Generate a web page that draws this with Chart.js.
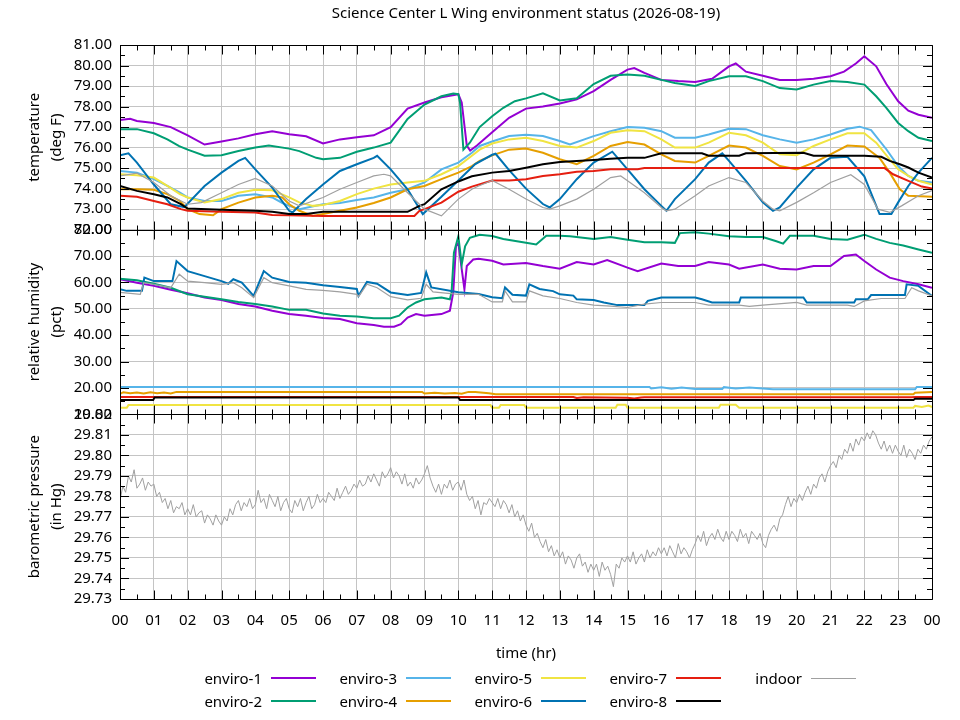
<!DOCTYPE html>
<html><head><meta charset="utf-8">
<script src="https://cdn.jsdelivr.net/npm/chart.js@4/dist/chart.umd.min.js"></script>
<style>
html,body{margin:0;padding:0;background:#fff;}
#wrap{position:relative;width:960px;height:720px;overflow:hidden;}
#c{position:absolute;left:0;top:0;}
.lgt{position:absolute;font:15px "Noto Sans";color:#000;white-space:nowrap;line-height:20px;height:20px;text-align:right;}
.lgl{position:absolute;width:45px;}
</style></head>
<body><div id="wrap"><canvas id="c" width="960" height="720"></canvas></div>
<script>
// ---------------- DATA ----------------
const chartTitle = 'Science Center L Wing environment status (2026-08-19)';
const seriesNames = ['enviro-1','enviro-2','enviro-3','enviro-4','enviro-5','enviro-6','enviro-7','enviro-8','indoor'];
const seriesColors = ['#9400d3','#009e73','#56b4e9','#e69f00','#f0e442','#0072b2','#e51e10','#000000','#a0a0a0'];

// temperature (deg F), [hour, value]
const tempE1 = [[0,77.35],[0.3,77.4],[0.5,77.3],[1,77.2],[1.5,77.0],[2,76.6],[2.5,76.15],[3,76.3],[3.5,76.45],[4,76.65],[4.5,76.8],[5,76.65],[5.5,76.55],[6,76.2],[6.5,76.4],[7,76.5],[7.5,76.6],[8,77.0],[8.5,77.9],[9,78.2],[9.5,78.45],[10,78.6],[10.1,78.2],[10.25,76.1],[10.35,75.85],[10.55,76.1],[11,76.75],[11.5,77.45],[12,77.9],[12.5,78.0],[13,78.15],[13.5,78.35],[14,78.75],[14.5,79.3],[15,79.8],[15.2,79.88],[15.5,79.64],[16,79.3],[16.5,79.24],[17,79.2],[17.5,79.35],[18,79.96],[18.2,80.1],[18.5,79.7],[19,79.5],[19.5,79.3],[20,79.3],[20.5,79.35],[21,79.48],[21.4,79.7],[21.75,80.1],[22,80.45],[22.35,79.96],[22.65,79.1],[23,78.26],[23.3,77.8],[23.6,77.6],[24,77.45]];
const tempE2 = [[0,76.9],[0.5,76.9],[1,76.7],[1.4,76.4],[1.75,76.07],[2,75.9],[2.5,75.6],[3,75.63],[3.5,75.83],[4,76.0],[4.4,76.1],[5,75.95],[5.3,75.83],[5.8,75.5],[6,75.43],[6.5,75.5],[7,75.8],[7.5,76.0],[8,76.24],[8.5,77.4],[9,78.1],[9.5,78.5],[9.85,78.63],[10,78.6],[10.05,78.2],[10.15,75.9],[10.34,76.24],[10.63,77.0],[11,77.53],[11.33,77.94],[11.67,78.26],[12,78.4],[12.5,78.65],[13,78.3],[13.5,78.4],[14,79.1],[14.5,79.5],[15,79.56],[15.5,79.5],[16,79.3],[16.4,79.15],[17,79.0],[17.4,79.24],[18,79.48],[18.5,79.48],[19,79.24],[19.5,78.9],[20,78.83],[20.5,79.07],[21,79.24],[21.5,79.2],[22,79.07],[22.35,78.5],[22.65,77.94],[23,77.2],[23.3,76.8],[23.6,76.48],[24,76.32]];
const tempE3 = [[0,74.86],[0.5,74.78],[1,74.46],[1.4,74.13],[1.77,73.8],[2,73.57],[2.5,73.4],[3,73.4],[3.5,73.65],[4,73.73],[4.5,73.57],[4.8,73.3],[5,73.16],[5.3,73.0],[6,73.24],[6.5,73.3],[7,73.45],[7.5,73.57],[8,73.8],[8.5,73.97],[9,74.3],[9.5,74.94],[10,75.27],[10.4,75.75],[10.63,76.08],[11,76.3],[11.5,76.56],[12,76.62],[12.5,76.56],[13,76.32],[13.3,76.15],[14,76.56],[14.5,76.8],[15,77.0],[15.5,76.97],[16,76.8],[16.4,76.48],[17,76.48],[17.4,76.64],[18,76.92],[18.5,76.9],[19,76.6],[19.5,76.4],[20,76.24],[20.5,76.4],[21,76.64],[21.5,76.92],[21.86,77.02],[22.2,76.85],[22.65,75.92],[23,75.1],[23.3,74.62],[23.6,74.38],[24,74.3]];
const tempE4 = [[0,73.97],[0.5,73.97],[1,73.94],[1.4,73.73],[1.77,73.4],[2,73.0],[2.35,72.76],[2.75,72.7],[3,73.0],[3.5,73.32],[4,73.57],[4.5,73.65],[4.8,73.57],[5,73.24],[5.3,72.92],[5.7,72.67],[6,72.76],[6.5,72.92],[7,73.08],[7.5,73.3],[8,73.57],[8.5,73.97],[9,74.13],[9.5,74.46],[10,74.78],[10.4,75.1],[10.63,75.35],[11,75.62],[11.5,75.9],[12,75.95],[12.5,75.75],[13,75.43],[13.5,75.19],[14,75.6],[14.5,76.08],[15,76.27],[15.5,76.15],[16,75.67],[16.4,75.35],[17,75.27],[17.4,75.6],[18,76.1],[18.5,76.0],[19,75.6],[19.5,75.1],[20,74.94],[20.5,75.27],[21,75.67],[21.5,76.1],[22,76.05],[22.45,75.5],[22.75,74.78],[23.05,73.97],[23.3,73.65],[24,73.6]];
const tempE5 = [[0,74.7],[0.5,74.65],[1,74.54],[1.4,74.13],[1.77,73.73],[2,73.57],[2.5,73.33],[3,73.49],[3.5,73.8],[4,73.94],[4.5,73.92],[5,73.57],[5.3,73.33],[5.7,73.16],[6,73.2],[6.5,73.4],[7,73.73],[7.5,74.0],[8,74.2],[8.5,74.3],[9,74.38],[9.5,74.7],[10,75.1],[10.4,75.6],[10.63,75.9],[11,76.2],[11.5,76.4],[12,76.48],[12.5,76.32],[13,76.08],[13.5,76.0],[14,76.32],[14.5,76.72],[15,76.85],[15.5,76.8],[16,76.4],[16.4,76.0],[17,76.0],[17.4,76.24],[18,76.72],[18.5,76.6],[19,76.24],[19.5,75.67],[20,75.63],[20.5,76.08],[21,76.4],[21.5,76.7],[22,76.7],[22.35,76.24],[22.75,75.43],[23,74.94],[23.3,74.62],[23.6,74.38],[24,74.2]];
const tempE6 = [[0,75.62],[0.25,75.72],[0.5,75.27],[1,74.2],[1.5,73.24],[1.9,73.1],[2.5,74.13],[3,74.78],[3.5,75.35],[3.7,75.5],[4,74.94],[4.5,74.05],[5,72.92],[5.1,72.84],[5.5,73.49],[6,74.2],[6.5,74.86],[7,75.19],[7.5,75.5],[7.6,75.6],[8,74.94],[8.5,73.97],[8.95,72.76],[9.5,73.6],[10,74.4],[10.5,75.2],[11,75.65],[11.1,75.7],[11.5,74.9],[12,74.0],[12.5,73.25],[12.7,73.08],[13,73.49],[13.5,74.46],[14,75.27],[14.55,75.8],[15,74.94],[15.5,73.97],[16,73.16],[16.15,72.92],[16.4,73.49],[17,74.46],[17.4,75.27],[17.8,75.72],[18,75.35],[18.5,74.38],[19,73.33],[19.3,72.92],[19.5,73.08],[20,74.05],[20.5,74.94],[21,75.5],[21.5,75.55],[22,74.6],[22.45,72.76],[22.8,72.76],[23,73.33],[23.3,74.13],[23.6,74.78],[24,75.5]];
const tempE7 = [[0,73.65],[0.5,73.6],[1,73.4],[1.4,73.24],[1.8,73.0],[2,72.92],[3,72.87],[4,72.84],[4.5,72.72],[5,72.7],[6,72.67],[8.7,72.67],[8.85,72.92],[9,73.0],[9.25,73.16],[9.5,73.32],[10,73.85],[10.4,74.1],[11,74.4],[11.5,74.4],[12,74.46],[12.5,74.62],[13,74.7],[13.5,74.82],[14,74.86],[14.5,74.94],[15.3,74.94],[15.5,75.0],[22.6,75.0],[22.85,74.7],[23.3,74.38],[23.7,74.1],[24,74.0]];
const tempE8 = [[0,74.13],[0.5,73.89],[1,73.73],[1.4,73.57],[1.8,73.24],[2,73.03],[3,72.97],[4,72.92],[4.5,72.87],[5,72.76],[5.5,72.76],[6,72.87],[8.5,72.87],[8.85,73.16],[9,73.24],[9.5,73.97],[10,74.35],[10.4,74.6],[11,74.78],[11.5,74.86],[12,75.02],[12.5,75.19],[13,75.3],[13.5,75.35],[14,75.4],[14.5,75.46],[15,75.5],[15.5,75.5],[16,75.72],[17.2,75.72],[17.4,75.6],[18.3,75.6],[18.5,75.72],[20.2,75.75],[20.5,75.6],[22,75.6],[22.5,75.55],[22.75,75.35],[23.05,75.19],[23.3,75.03],[23.6,74.78],[24,74.54]];
const tempIndoor = [[0,74.62],[0.5,74.75],[1,74.3],[1.5,73.65],[2,73.24],[2.4,73.32],[3,73.8],[3.5,74.2],[4,74.5],[4.5,74.13],[5,73.4],[5.3,73.16],[6,73.57],[6.5,73.97],[7,74.3],[7.5,74.62],[7.8,74.7],[8,74.62],[8.5,73.8],[9,73.0],[9.5,72.67],[10,73.49],[10.4,73.97],[10.6,74.13],[11,74.4],[11.5,73.97],[12,73.49],[12.5,73.08],[12.7,73.0],[13,73.16],[13.5,73.49],[14,73.97],[14.5,74.54],[14.8,74.62],[15,74.38],[15.5,73.8],[16,73.08],[16.15,72.92],[16.4,73.0],[17,73.65],[17.4,74.13],[18,74.54],[18.5,74.3],[19,73.4],[19.3,73.0],[19.5,72.92],[20,73.33],[20.5,73.8],[21,74.3],[21.6,74.68],[22,74.2],[22.4,73.0],[22.75,72.84],[23.1,73.16],[23.6,73.65],[24,73.9]];

// relative humidity (pct), [hour, value]
const humE1 = [[0,61.2],[0.5,59.9],[1,58.7],[1.5,57.2],[2,55.9],[2.5,54.3],[3,53.3],[3.5,51.8],[4,50.9],[4.5,49.3],[5,48.0],[5.5,47.4],[6,46.5],[6.5,46.1],[7,44.5],[7.5,43.9],[7.8,43.2],[8.1,43.2],[8.3,44.2],[8.5,46.7],[8.75,48.0],[9,47.4],[9.5,48.0],[9.75,49.3],[9.85,56.2],[9.93,73.7],[10,75.0],[10.1,65.0],[10.18,57.4],[10.25,66.2],[10.44,68.7],[10.6,69.0],[11,68.2],[11.33,66.8],[12,67.4],[12.5,66.2],[13,65.2],[13.5,67.7],[14,66.8],[14.4,68.5],[15,65.6],[15.3,64.3],[16,67.2],[16.5,66.2],[17,66.2],[17.4,67.7],[18,66.8],[18.3,65.2],[19,66.8],[19.5,65.2],[20,64.9],[20.5,66.2],[21,66.2],[21.4,70.0],[21.75,70.6],[22,68.1],[22.35,64.9],[22.75,61.8],[23.15,60.5],[23.6,59.3],[24,58.0]];
const humE2 = [[0,61.4],[0.5,60.8],[1,59.5],[1.5,58.0],[2,55.5],[2.5,54.6],[3,53.6],[3.5,52.6],[4,51.8],[4.5,50.9],[5,49.6],[5.5,49.6],[6,48.2],[6.5,47.4],[7,47.1],[7.5,46.4],[8,46.4],[8.25,47.4],[8.5,50.5],[8.75,52.4],[9,53.6],[9.5,54.3],[9.75,53.6],[9.8,56.3],[9.87,71.3],[10,77.5],[10.1,66.8],[10.2,73.7],[10.34,76.9],[10.63,78.1],[11,77.6],[11.33,76.5],[12,75.0],[12.3,74.4],[12.6,77.7],[13,77.7],[13.3,77.5],[14,76.5],[14.5,77.2],[15,76.2],[15.5,75.2],[16,75.2],[16.4,75.0],[16.55,78.7],[17,79.0],[17.4,78.5],[18,77.5],[18.5,77.2],[19,77.2],[19.4,75.6],[19.6,74.7],[19.8,77.7],[20.5,77.7],[21,76.5],[21.5,76.2],[22,78.1],[22.35,76.5],[22.75,75.0],[23.15,74.0],[23.6,72.5],[24,71.2]];
const humE3 = [[0,20.4],[15.65,20.4],[15.7,19.8],[16.0,20.3],[16.3,19.7],[16.6,20.2],[17.0,19.6],[17.8,19.6],[17.85,20.3],[18.2,19.8],[18.6,20.2],[19.0,19.8],[19.3,19.5],[23.5,19.5],[23.55,20.4],[24,20.4]];
const humE4 = [[0,17.8],[0.1,18.4],[0.3,18.0],[0.5,18.3],[0.7,17.9],[0.9,18.4],[1.1,18.0],[1.3,18.3],[1.5,17.9],[1.67,18.5],[8.93,18.5],[9.0,17.9],[9.3,18.2],[9.6,17.9],[9.9,18.1],[10.1,17.8],[10.3,18.5],[10.5,18.5],[10.9,18.0],[11.1,17.6],[23.45,17.6],[23.5,18.2],[24,18.5]];
const humE5 = [[0,12.5],[0.2,12.5],[0.25,13.5],[10.95,13.5],[11.0,12.5],[11.2,12.5],[11.25,13.5],[11.95,13.5],[12.0,12.5],[14.65,12.5],[14.7,13.6],[14.95,13.6],[15.0,12.5],[17.7,12.5],[17.75,13.6],[18.2,13.6],[18.3,12.5],[23.45,12.5],[23.5,13.2],[23.7,12.8],[23.9,13.3],[24,12.8]];
const humE6 = [[0,57.4],[0.2,56.8],[0.65,56.8],[0.72,61.8],[1,60.5],[1.55,60.5],[1.67,68.1],[2,64.3],[2.5,62.4],[3,60.5],[3.2,59.5],[3.35,61.2],[3.6,59.9],[3.95,54.9],[4.25,64.3],[4.5,61.8],[5,60.2],[5.5,59.9],[6,58.9],[6.5,58.3],[7.0,57.5],[7.05,54.9],[7.3,60.2],[7.6,59.5],[8,56.2],[8.5,55.2],[8.9,56.0],[9.05,63.8],[9.2,58.1],[10,56.3],[10.6,55.6],[11,54.4],[11.3,54.0],[11.38,58.1],[11.6,55.3],[12.0,55.0],[12.1,59.3],[12.4,57.5],[12.8,56.7],[13,55.5],[13.4,55.0],[13.5,53.6],[14,53.3],[14.3,52.4],[14.7,51.4],[15.5,51.4],[15.6,53.0],[16,54.3],[17,54.3],[17.2,53.6],[17.5,52.4],[18.3,52.4],[18.35,54.3],[20.2,54.3],[20.3,52.4],[21.7,52.4],[21.75,53.6],[22.1,53.6],[22.2,55.2],[23.2,55.2],[23.25,59.3],[23.6,58.7],[24,54.9]];
const humE7 = [[0,16.6],[13.4,16.6],[13.5,16.2],[13.7,16.5],[15.0,16.3],[15.2,16.0],[15.4,16.4],[15.5,16.5],[23.4,16.5],[23.5,16.6],[24,16.6]];
const humE8 = [[0,15.4],[0.98,15.4],[1.02,16.4],[10.0,16.4],[10.05,15.4],[23.45,15.4],[23.5,15.9],[24,15.9]];
const humIndoor = [[0,56.2],[0.6,55.5],[0.7,59.9],[1,59.3],[1.5,58.0],[1.75,63.1],[2,60.5],[2.5,59.9],[3,59.3],[3.35,59.9],[3.6,58.0],[3.95,54.3],[4.25,61.8],[4.5,59.9],[5,58.7],[5.5,57.4],[6,57.0],[6.5,56.4],[7.0,55.5],[7.05,54.6],[7.3,59.3],[7.6,58.0],[8,54.6],[8.5,53.4],[8.9,54.0],[9.05,59.3],[9.25,56.4],[10,55.5],[10.6,55.5],[11,52.6],[11.3,52.6],[11.38,56.8],[11.6,52.6],[12.0,52.6],[12.1,56.8],[12.5,54.9],[13,53.9],[13.5,52.4],[14,51.4],[14.5,51.0],[15,50.5],[15.5,51.8],[16,52.4],[17,52.4],[17.4,51.4],[18.3,51.4],[18.6,50.9],[19,51.4],[20,52.4],[20.3,51.4],[21.5,51.4],[21.7,50.9],[22,53.0],[22.5,53.9],[23.2,53.9],[23.4,58.0],[23.6,56.8],[24,54.9]];

// barometric pressure (in Hg), one reading every 5 minutes from 00:00
const pressStepMin = 5;
const pressure = [
29.778,29.785,29.782,29.790,29.787,29.793,29.784,29.786,29.789,29.783,29.787,29.785,
29.786,29.780,29.782,29.777,29.779,29.774,29.778,29.772,29.775,29.774,29.777,29.771,
29.774,29.771,29.776,29.770,29.772,29.773,29.767,29.771,29.769,29.766,29.771,29.768,
29.766,29.770,29.768,29.774,29.771,29.776,29.778,29.773,29.777,29.775,29.779,29.774,
29.776,29.783,29.777,29.779,29.774,29.781,29.778,29.775,29.780,29.773,29.777,29.779,
29.774,29.772,29.778,29.775,29.779,29.773,29.777,29.780,29.774,29.776,29.781,29.777,
29.779,29.777,29.782,29.780,29.778,29.784,29.779,29.782,29.785,29.781,29.783,29.786,
29.784,29.788,29.785,29.786,29.790,29.787,29.791,29.788,29.785,29.792,29.789,29.791,
29.794,29.789,29.792,29.790,29.786,29.791,29.785,29.787,29.784,29.789,29.786,29.788,
29.791,29.795,29.789,29.785,29.782,29.786,29.781,29.786,29.784,29.788,29.783,29.786,
29.787,29.783,29.788,29.781,29.778,29.780,29.774,29.778,29.771,29.777,29.776,29.779,
29.777,29.775,29.779,29.774,29.778,29.776,29.772,29.776,29.770,29.773,29.768,29.771,
29.766,29.763,29.767,29.760,29.762,29.758,29.755,29.759,29.753,29.756,29.751,29.754,
29.750,29.753,29.747,29.751,29.749,29.745,29.750,29.752,29.746,29.748,29.743,29.747,
29.744,29.747,29.741,29.748,29.744,29.746,29.742,29.736,29.747,29.745,29.750,29.748,
29.751,29.748,29.753,29.747,29.750,29.752,29.748,29.754,29.750,29.753,29.751,29.755,
29.752,29.755,29.751,29.756,29.753,29.750,29.757,29.752,29.755,29.753,29.750,29.754,
29.757,29.761,29.758,29.763,29.756,29.760,29.762,29.759,29.764,29.760,29.758,29.763,
29.759,29.763,29.761,29.758,29.764,29.760,29.762,29.757,29.763,29.761,29.759,29.762,
29.757,29.755,29.761,29.764,29.766,29.763,29.769,29.771,29.776,29.780,29.775,29.779,
29.777,29.781,29.778,29.782,29.785,29.781,29.786,29.784,29.789,29.791,29.787,29.792,
29.795,29.797,29.794,29.800,29.798,29.803,29.801,29.806,29.802,29.808,29.805,29.809,
29.807,29.811,29.808,29.812,29.810,29.806,29.803,29.807,29.802,29.805,29.801,29.805,
29.802,29.800,29.805,29.799,29.803,29.801,29.798,29.803,29.801,29.805,29.803,29.807,
29.809];

const tempSeries = [tempE1,tempE2,tempE3,tempE4,tempE5,tempE6,tempE7,tempE8,tempIndoor];
const humSeries = [humE1,humE2,humE3,humE4,humE5,humE6,humE7,humE8,humIndoor];

// ---------------- CHART ----------------
const FONT = 'Noto Sans';
Chart.defaults.font.family = FONT;
Chart.defaults.color = '#000';
const gridColor = '#c4c4c4';
const tickFont = {family: FONT, size: 15};
const titleFont = {family: FONT, size: 15, lineHeight: 1.45};

const datasets = [];
function addSet(arr, i, axis) {
  datasets.push({
    label: seriesNames[i], data: arr, yAxisID: axis, xAxisID: 'x',
    borderColor: seriesColors[i], backgroundColor: seriesColors[i],
    borderWidth: i === 8 ? 1.2 : 2, pointRadius: 0, tension: 0, fill: false,
    order: 100 - i
  });
}
tempSeries.forEach((s, i) => addSet(s, i, 'yT'));
humSeries.forEach((s, i) => addSet(s, i, 'yH'));
datasets.push({
  label: 'pressure', data: pressure.map((v, i) => [i * pressStepMin / 60, v]),
  yAxisID: 'yP', xAxisID: 'x', borderColor: '#a0a0a0', borderWidth: 1,
  pointRadius: 0, tension: 0, fill: false, order: 0
});

function yAxis(min, max, step, title, weight) {
  return {
    type: 'linear', position: 'left', stack: 'panels', stackWeight: 1, weight: weight,
    min: min, max: max, offset: false,
    ticks: {stepSize: step, autoSkip: false, padding: 8, color: '#000', font: tickFont,
            callback: v => Number(v).toFixed(2)},
    grid: {color: gridColor, lineWidth: 1, drawTicks: false},
    border: {display: false},
    title: {display: true, text: title, color: '#000', font: titleFont, padding: {top: 24, bottom: 0}},
    afterFit: s => { s.width = 120; }
  };
}

const framePlugin = {
  id: 'frame',
  afterDatasetsDraw(chart) {
    const ctx = chart.ctx;
    const xs = chart.scales.x;
    const L = chart.chartArea.left, R = chart.chartArea.right;
    ctx.save();
    ctx.strokeStyle = '#000';
    ctx.lineWidth = 1;
    const xv = xs.ticks.map(t => t.value);
    ['yT', 'yH', 'yP'].forEach(id => {
      const ys = chart.scales[id];
      const T = Math.round(ys.top) + 0.5, B = Math.round(ys.bottom) + 0.5;
      ctx.beginPath();
      ctx.rect(Math.round(L) + 0.5, T, Math.round(R - L), B - T);
      xv.forEach((v, k) => {
        const px = Math.round(xs.getPixelForValue(v)) + 0.5;
        ctx.moveTo(px, T); ctx.lineTo(px, T + 9);
        ctx.moveTo(px, B); ctx.lineTo(px, B - 9);
        if (k < xv.length - 1) {
          const pm = Math.round(xs.getPixelForValue((v + xv[k + 1]) / 2)) + 0.5;
          ctx.moveTo(pm, T); ctx.lineTo(pm, T + 5);
          ctx.moveTo(pm, B); ctx.lineTo(pm, B - 5);
        }
      });
      const yv = ys.ticks.map(t => t.value);
      yv.forEach((v, k) => {
        const py = Math.round(ys.getPixelForValue(v)) + 0.5;
        ctx.moveTo(L, py); ctx.lineTo(L + 9, py);
        ctx.moveTo(R, py); ctx.lineTo(R - 9, py);
        if (k < yv.length - 1) {
          const pm = Math.round(ys.getPixelForValue((v + yv[k + 1]) / 2)) + 0.5;
          ctx.moveTo(L, pm); ctx.lineTo(L + 5, pm);
          ctx.moveTo(R, pm); ctx.lineTo(R - 5, pm);
        }
      });
      ctx.stroke();
    });
    ctx.restore();
  }
};

new Chart(document.getElementById('c'), {
  type: 'line',
  data: {datasets: datasets},
  plugins: [framePlugin],
  options: {
    responsive: false, animation: false, devicePixelRatio: 1,
    parsing: true, normalized: true,
    layout: {padding: {left: 0, right: 28, top: 0, bottom: 0}},
    plugins: {
      legend: {display: false}, tooltip: {enabled: false},
      title: {display: true, text: chartTitle, fullSize: false, color: '#000',
              font: {family: FONT, size: 15, weight: 'normal', lineHeight: 1.2},
              padding: {top: 5, bottom: 22}}
    },
    scales: {
      x: {
        type: 'linear', position: 'bottom', min: 0, max: 24,
        ticks: {stepSize: 1, autoSkip: false, maxRotation: 0, padding: 13, color: '#000', font: tickFont,
                callback: v => String(Math.round(v) % 24).padStart(2, '0')},
        grid: {color: gridColor, lineWidth: 1, drawTicks: false},
        border: {display: false},
        title: {display: true, text: 'time (hr)', color: '#000', font: titleFont, padding: {top: 0, bottom: 55}},
        afterFit: s => { s.height = 121; }
      },
      yT: yAxis(72, 81, 1, ['temperature', '(deg F)'], 3),
      yH: yAxis(10, 80, 10, ['relative humidity', '(pct)'], 2),
      yP: yAxis(29.73, 29.82, 0.01, ['barometric pressure', '(in Hg)'], 1)
    }
  }
});

// ---------------- LEGEND (text then line sample, gnuplot style) ----------------
const legendRowY = [678, 701];
const legendColX = [271, 406, 541, 676, 811];
const wrap = document.getElementById('wrap');
seriesNames.forEach((name, i) => {
  const col = Math.floor(i / 2), row = i % 2;
  const sx = legendColX[col], cy = legendRowY[row];
  const t = document.createElement('div');
  t.className = 'lgt';
  t.textContent = name;
  t.style.right = (960 - (sx - 9)) + 'px';
  t.style.top = (cy - 10) + 'px';
  wrap.appendChild(t);
  const l = document.createElement('div');
  l.className = 'lgl';
  const h = i === 8 ? 1 : 2;
  l.style.left = sx + 'px';
  l.style.top = (cy - Math.floor(h / 2)) + 'px';
  l.style.height = h + 'px';
  l.style.background = seriesColors[i];
  wrap.appendChild(l);
});
</script>
</body></html>
